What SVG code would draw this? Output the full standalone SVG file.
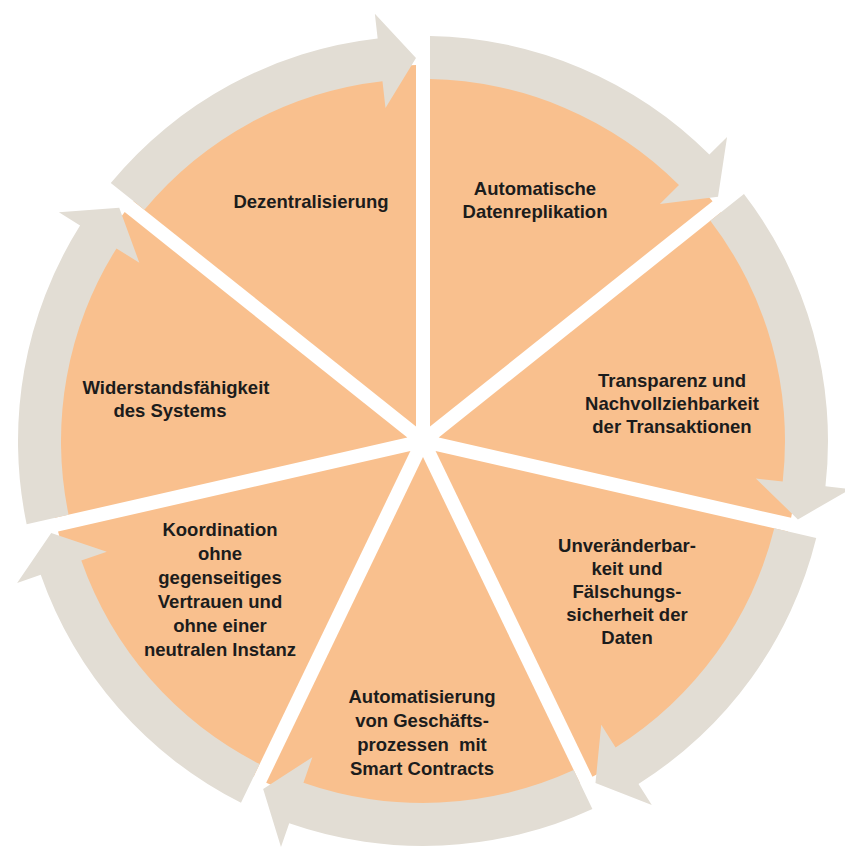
<svg xmlns="http://www.w3.org/2000/svg" xmlns:xlink="http://www.w3.org/1999/xlink" width="845" height="851" viewBox="0 0 845 851">
  <style>
    .slice { fill: #F9C08E; }
    .arrow { fill: #E2DDD4; }
    .lbl { font-family: "Liberation Sans", Arial, sans-serif; font-weight: bold; font-size: 18.5px; fill: #1c1c1c; text-anchor: middle; }
  </style>
  <defs>
    <path id="slice" d="M 6.99 -14.51 L 7 -375.93 A 376 376 0 0 1 289.56 -239.87 Z"/>
    <path id="arrow" d="M 7 -404.94 A 405 405 0 0 1 286.38 -286.38 L 304.06 -304.06 L 295.03 -244.24 L 236.88 -236.88 L 255.97 -255.97 A 362 362 0 0 0 7 -361.93 Z"/>
  </defs>
  <rect width="845" height="851" fill="#FFFFFF"/>

  <g id="node-datenreplikation">
    <use xlink:href="#slice" class="slice" transform="translate(423 441) rotate(0)"/>
    <text class="lbl" x="535" y="195"><tspan x="535">Automatische</tspan><tspan x="535" dy="23">Datenreplikation</tspan></text>
  </g>
  <g id="node-transparenz">
    <use xlink:href="#slice" class="slice" transform="translate(423 441) rotate(51.4286)"/>
    <text class="lbl" x="672" y="387"><tspan x="672">Transparenz und</tspan><tspan x="672" dy="23">Nachvollziehbarkeit</tspan><tspan x="672" dy="23">der Transaktionen</tspan></text>
  </g>
  <g id="node-unveraenderbarkeit">
    <use xlink:href="#slice" class="slice" transform="translate(423 441) rotate(102.8571)"/>
    <text class="lbl" x="627" y="552"><tspan x="627">Unveränderbar-</tspan><tspan x="627" dy="23">keit und</tspan><tspan x="627" dy="23">Fälschungs-</tspan><tspan x="627" dy="23">sicherheit der</tspan><tspan x="627" dy="23">Daten</tspan></text>
  </g>
  <g id="node-smart-contracts">
    <use xlink:href="#slice" class="slice" transform="translate(423 441) rotate(154.2857)"/>
    <text class="lbl" x="422" y="703"><tspan x="422">Automatisierung</tspan><tspan x="422" dy="24">von Geschäfts-</tspan><tspan x="422" dy="24" xml:space="preserve">prozessen  mit</tspan><tspan x="422" dy="24">Smart Contracts</tspan></text>
  </g>
  <g id="node-koordination">
    <use xlink:href="#slice" class="slice" transform="translate(423 441) rotate(205.7143)"/>
    <text class="lbl" x="220" y="536"><tspan x="220">Koordination</tspan><tspan x="220" dy="24">ohne</tspan><tspan x="220" dy="24">gegenseitiges</tspan><tspan x="220" dy="24">Vertrauen und</tspan><tspan x="220" dy="24">ohne einer</tspan><tspan x="220" dy="24">neutralen Instanz</tspan></text>
  </g>
  <g id="node-widerstand">
    <use xlink:href="#slice" class="slice" transform="translate(423 441) rotate(257.1429)"/>
    <text class="lbl" x="175" y="394"><tspan x="176">Widerstandsfähigkeit</tspan><tspan x="170" dy="23">des Systems</tspan></text>
  </g>
  <g id="node-dezentralisierung">
    <use xlink:href="#slice" class="slice" transform="translate(423 441) rotate(308.5714)"/>
    <text class="lbl" x="311" y="208">Dezentralisierung</text>
  </g>

  <g id="connectors">
    <use xlink:href="#arrow" class="arrow" transform="translate(423 441) rotate(0)"/>
    <use xlink:href="#arrow" class="arrow" transform="translate(423 441) rotate(51.4286)"/>
    <use xlink:href="#arrow" class="arrow" transform="translate(423 441) rotate(102.8571)"/>
    <use xlink:href="#arrow" class="arrow" transform="translate(423 441) rotate(154.2857)"/>
    <use xlink:href="#arrow" class="arrow" transform="translate(423 441) rotate(205.7143)"/>
    <use xlink:href="#arrow" class="arrow" transform="translate(423 441) rotate(257.1429)"/>
    <use xlink:href="#arrow" class="arrow" transform="translate(423 441) rotate(308.5714)"/>
  </g>
</svg>
